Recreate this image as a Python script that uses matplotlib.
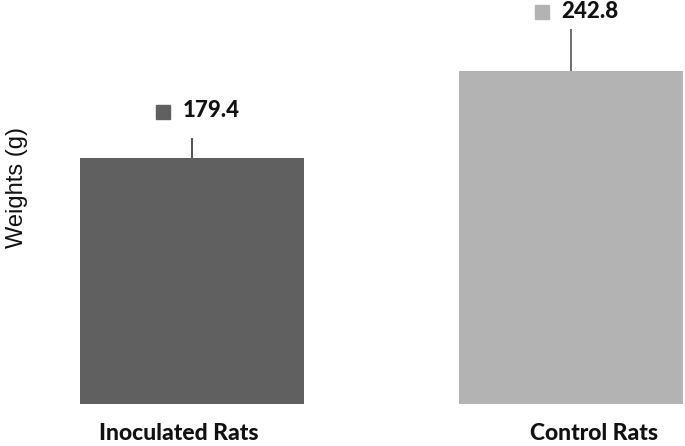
import numpy as np
import matplotlib
matplotlib.use('Agg')
from matplotlib import pyplot as plt

groups = ['Inoculated Rats', 'Control Rats']
weights = [179.4, 242.8]
errors = [15.0, 31.0]
colors = ['#606060', '#b3b3b3']
label_y = [209.5, 282]
group_shift = [-0.034, 0.061]


def main():
	fig = plt.figure(figsize=(6.85, 4.46), dpi=100)
	ax = fig.add_axes([0, 42 / 446, 1, 404 / 446])
	x = np.arange(len(groups))
	ax.bar(x, weights, width=0.591, color=colors)
	ax.errorbar(x, weights, yerr=[[0, 0], errors], fmt='none', ecolor=['#333333', '#555555'], elinewidth=1.2, capsize=0)

	for xi, v, ly, c in zip(x, weights, label_y, colors):
		# small legend-like square next to the value
		ax.plot(xi - 0.076, ly + 4, marker='s', markersize=9.5, color=c, linestyle='none')
		ax.annotate('%.1f' % v, (xi, ly), xytext=(-7, 0), textcoords='offset points',
			ha='left', va='baseline', fontsize=16, fontweight='black', family='Lato', color='#111111')
		ax.text(xi + group_shift[xi], -0.089, groups[xi], transform=ax.get_xaxis_transform(),
			ha='center', va='baseline', fontsize=16.5, fontweight='black', family='Lato', color='#111111')

	ax.set_xlim(-0.5066, 1.3008)
	ax.set_ylim(0, 295)
	ax.axis('off')
	fig.text(17 / 685, 1 - 188 / 446, 'Weights (g)', rotation=90, ha='center', va='center',
		fontsize=17, family='Liberation Sans', color='#111111')
	fig.savefig('out.png', dpi=100)


main()
